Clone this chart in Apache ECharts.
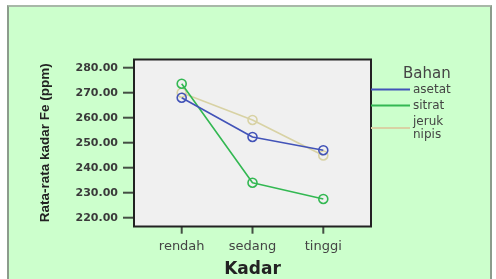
<!DOCTYPE html>
<html>
<head>
<meta charset="utf-8">
<script src="https://cdn.jsdelivr.net/npm/echarts@6/dist/echarts.min.js"></script>
<style>
  html, body { margin: 0; padding: 0; background: #ffffff; }
  #wrap { position: relative; width: 496px; height: 279px; overflow: hidden; }
  #frame { position: absolute; left: 7px; top: 5px; width: 481px; height: 290px;
           background: #ccffcc; border: 2px solid #8c9c8c; border-top-color: #a8b8a8; }
  #chart { position: absolute; left: 0; top: 0; width: 496px; height: 279px; }
</style>
</head>
<body>
<div id="wrap">
  <div id="frame"></div>
  <div id="chart"></div>
</div>
<script>
// ---- data ----
const categories = ['rendah', 'sedang', 'tinggi'];
const seriesNames = ['asetat', 'sitrat', 'jeruk nipis'];
const asetat = [268.0, 252.3, 247.0];
const sitrat = [273.6, 234.0, 227.5];
const jerukNipis = [270.0, 259.1, 244.9];
const yTicks = [220, 230, 240, 250, 260, 270, 280];
const yMin = 220, yMax = 280, yStep = 10;
const colors = ['#4253b8', '#33b852', '#d8d2a4'];

const values = [asetat, sitrat, jerukNipis];

const chart = echarts.init(document.getElementById('chart'), null, { renderer: 'canvas' });

const series = values.map((arr, i) => ({
  name: seriesNames[i],
  type: 'line',
  xAxisIndex: 1, yAxisIndex: 1,
  data: arr,
  symbol: 'circle',
  symbolSize: 9,
  showSymbol: true,
  clip: false,
  lineStyle: { color: colors[i], width: 1.6 },
  itemStyle: { color: 'rgba(0,0,0,0)', borderColor: colors[i], borderWidth: 1.6 },
  emphasis: { disabled: true },
  z: 3 - i
}));

// tick marks drawn as small filled rects through their own axes
series.push({
  type: 'scatter', xAxisIndex: 2, yAxisIndex: 2, silent: true, clip: false,
  data: yTicks.map(v => [0.5, v]),
  symbol: 'rect', symbolSize: [11, 2],
  itemStyle: { color: '#222' }, emphasis: { disabled: true }, z: 5
});
series.push({
  type: 'scatter', xAxisIndex: 3, yAxisIndex: 3, silent: true, clip: false,
  data: categories.map(c => [c, 0.5]),
  symbol: 'rect', symbolSize: [2, 7],
  itemStyle: { color: '#222' }, emphasis: { disabled: true }, z: 5
});

const gridBase = { containLabel: false, outerBoundsMode: 'none', show: false };
const hiddenAxis = { axisLine: { show: false }, axisTick: { show: false }, axisLabel: { show: false }, splitLine: { show: false } };

chart.setOption({
  backgroundColor: 'transparent',
  animation: false,
  textStyle: { fontFamily: 'DejaVu Sans' },
  grid: [
    { // the framed plot box
      left: 134, top: 59.5, width: 237, height: 167,
      containLabel: false, outerBoundsMode: 'none',
      show: true, backgroundColor: '#f0f0f0', borderColor: '#222', borderWidth: 2
    },
    Object.assign({ left: 146.3, top: 67.7, width: 212.4, height: 150 }, gridBase), // data area
    Object.assign({ left: 123, top: 67.7, width: 11, height: 150 }, gridBase),     // y tick strip
    Object.assign({ left: 181.7, top: 226.7, width: 141.6, height: 7 }, gridBase)  // x tick strip
  ],
  xAxis: [
    { gridIndex: 0, type: 'value', show: false },
    {
      gridIndex: 1,
      type: 'category',
      data: categories,
      boundaryGap: true,
      offset: 9,
      splitLine: { show: false },
      axisLine: { show: false },
      axisTick: { show: false },
      axisLabel: { fontFamily: 'DejaVu Sans', fontSize: 13, color: '#444', margin: 13 },
      name: 'Kadar', nameLocation: 'middle', nameGap: 34,
      nameTextStyle: { fontFamily: 'DejaVu Sans', fontWeight: 'bold', fontSize: 17, color: '#222' }
    },
    Object.assign({ gridIndex: 2, type: 'value', min: 0, max: 1 }, hiddenAxis),
    Object.assign({ gridIndex: 3, type: 'category', data: categories, boundaryGap: false }, hiddenAxis)
  ],
  yAxis: [
    { gridIndex: 0, type: 'value', show: false },
    {
      gridIndex: 1,
      type: 'value',
      min: yMin, max: yMax, interval: yStep,
      offset: 12.3,
      splitLine: { show: false },
      axisLine: { show: false },
      axisTick: { show: false },
      axisLabel: {
        formatter: v => v.toFixed(2),
        fontFamily: 'DejaVu Sans', fontWeight: 'bold', fontSize: 11, color: '#3a3a3a', margin: 16
      },
      name: 'Rata-rata kadar Fe (ppm)', nameLocation: 'middle', nameGap: 82,
      nameTextStyle: { fontFamily: 'Liberation Sans', fontWeight: 'bold', fontSize: 13.5, color: '#222' }
    },
    Object.assign({ gridIndex: 2, type: 'value', min: yMin, max: yMax, interval: yStep }, hiddenAxis),
    Object.assign({ gridIndex: 3, type: 'value', min: 0, max: 1 }, hiddenAxis)
  ],
  legend: {
    orient: 'vertical',
    left: 371, top: 83,
    padding: 0,
    itemGap: 3,
    itemWidth: 39, itemHeight: 2,
    icon: 'rect',
    selectedMode: false,
    formatter: n => n.replace(' ', '\n'),
    textStyle: { fontFamily: 'DejaVu Sans', fontSize: 12, lineHeight: 13, color: '#444', padding: [0, 0, 0, -2] },
    data: seriesNames.map((n, i) => ({ name: n, itemStyle: { color: colors[i], borderWidth: 0 } }))
  },
  graphic: [{
    type: 'text',
    left: 403, top: 67,
    style: { text: 'Bahan', fontFamily: 'DejaVu Sans', fontSize: 15, fill: '#444' }
  }],
  series: series
});
</script>
</body>
</html>
